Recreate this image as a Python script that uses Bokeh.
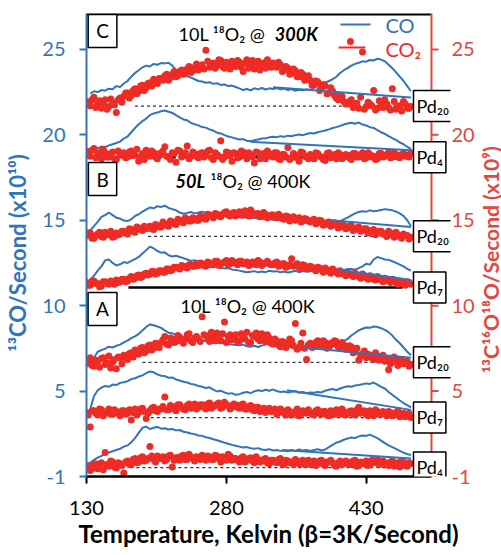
import math
from bokeh.plotting import figure
from bokeh.layouts import row
from bokeh.models import Range1d, LinearAxis, FixedTicker, Label, Span
from bokeh.embed import file_html
from bokeh.resources import INLINE

BLUE = "#3274bb"
RED = "#ee2b24"
RED_AXIS = "#e2483f"
FONT = "Lato, 'Noto Sans', sans-serif"

# ---------------- data ----------------
temps_line = list(range(134, 479, 4))    # K, CO traces
temps_dot = list(range(130, 479, 4))     # K, CO2 points (set a)
temps_dot_b = list(range(132, 477, 4))   # K, CO2 points (set b)

co_C_pd20 = [22.40, 22.55, 22.50, 22.62, 22.58, 22.70, 22.66, 22.85, 22.80, 23.00,
             23.15, 23.40, 23.62, 23.78, 23.95, 24.05, 24.00, 24.15, 24.10, 24.20,
             24.18, 24.22, 24.05, 23.80, 23.65, 23.55, 23.42, 23.35, 23.25, 23.15,
             23.12, 23.05, 23.08, 22.98, 23.02, 22.92, 22.95, 22.85, 22.88, 22.80,
             22.72, 22.62, 22.68, 22.60, 22.72, 22.66, 22.74, 22.65, 22.72, 22.68,
             22.74, 22.66, 22.70, 22.62, 22.68, 22.58, 22.64, 22.60, 22.66, 22.62,
             22.75, 22.85, 22.98, 23.05, 23.15, 23.25, 23.40, 23.62, 23.78, 23.90,
             24.05, 24.15, 24.22, 24.30, 24.28, 24.38, 24.35, 24.45, 24.40, 24.30,
             24.10, 23.90, 23.65, 23.40, 23.15, 22.85, 22.55]
co_C_pd4 = [19.15, 19.22, 19.20, 19.30, 19.28, 19.38, 19.45, 19.52, 19.60, 19.78,
            19.90, 20.15, 20.40, 20.62, 20.80, 20.95, 21.15, 21.25, 21.30, 21.38,
            21.42, 21.35, 21.28, 21.15, 21.02, 20.90, 20.85, 20.70, 20.62, 20.55,
            20.45, 20.42, 20.32, 20.25, 20.12, 20.08, 19.98, 19.90, 19.85, 19.78,
            19.72, 19.75, 19.65, 19.62, 19.68, 19.72, 19.78, 19.80, 19.85, 19.88,
            19.85, 19.92, 19.88, 19.95, 19.92, 19.98, 20.02, 19.98, 20.05, 20.10,
            20.08, 20.15, 20.20, 20.25, 20.32, 20.40, 20.45, 20.52, 20.60, 20.66,
            20.70, 20.65, 20.72, 20.60, 20.55, 20.45, 20.40, 20.28, 20.15, 20.05,
            19.92, 19.80, 19.70, 19.55, 19.45, 19.30, 19.18]
co_B_pd20 = [14.40, 14.65, 14.90, 15.20, 15.30, 15.45, 15.30, 15.15, 15.10, 14.98,
             14.95, 15.05, 15.25, 15.35, 15.50, 15.62, 15.75, 15.70, 15.82, 15.78,
             15.85, 15.72, 15.65, 15.58, 15.45, 15.38, 15.42, 15.48, 15.40, 15.46,
             15.50, 15.42, 15.38, 15.35, 15.40, 15.30, 15.32, 15.25, 15.22, 15.18,
             15.20, 15.15, 15.18, 15.12, 15.16, 15.10, 15.12, 15.05, 15.08, 15.02,
             15.05, 15.00, 15.02, 14.96, 15.00, 14.95, 14.98, 14.92, 14.95, 14.90,
             14.92, 14.88, 14.90, 14.86, 14.88, 14.85, 14.90, 14.95, 15.05, 15.15,
             15.28, 15.40, 15.48, 15.52, 15.50, 15.58, 15.52, 15.55, 15.60, 15.65,
             15.62, 15.58, 15.50, 15.40, 15.25, 15.00, 14.65]
co_B_pd7 = [11.50, 11.75, 12.05, 12.30, 12.65, 12.70, 12.50, 12.35, 12.42, 12.55,
            12.50, 12.62, 12.72, 12.85, 13.05, 13.25, 13.45, 13.35, 13.20, 13.10,
            13.12, 12.95, 12.88, 12.92, 12.85, 12.78, 12.70, 12.62, 12.66, 12.55,
            12.52, 12.45, 12.38, 12.32, 12.28, 12.22, 12.18, 12.20, 12.12, 12.08,
            12.05, 12.00, 11.95, 11.98, 12.02, 11.95, 12.00, 11.96, 12.04, 12.00,
            12.02, 11.96, 12.00, 11.94, 11.98, 12.04, 11.96, 12.02, 11.98, 12.05,
            12.00, 12.06, 12.02, 12.08, 12.04, 12.10, 12.05, 12.12, 12.08, 12.15,
            12.15, 12.10, 12.20, 12.30, 12.45, 12.40, 12.70, 12.85, 12.78, 12.70,
            12.68, 12.60, 12.50, 12.40, 12.30, 12.15, 12.05]
co_A_pd20 = [6.55, 6.95, 7.30, 7.40, 7.48, 7.60, 7.55, 7.65, 7.72, 7.85,
             7.95, 8.10, 8.20, 8.35, 8.55, 8.75, 8.90, 8.85, 8.78, 8.70,
             8.55, 8.42, 8.38, 8.30, 8.22, 8.12, 8.15, 8.05, 8.08, 7.98,
             8.00, 7.92, 7.95, 7.85, 7.82, 7.86, 7.78, 7.75, 7.72, 7.70,
             7.68, 7.72, 7.62, 7.60, 7.65, 7.58, 7.66, 7.72, 7.80, 7.85,
             7.82, 7.78, 7.80, 7.72, 7.65, 7.60, 7.62, 7.58, 7.60, 7.55,
             7.58, 7.52, 7.55, 7.50, 7.58, 7.60, 7.70, 7.78, 7.92, 8.05,
             8.25, 8.40, 8.55, 8.65, 8.72, 8.70, 8.78, 8.75, 8.68, 8.58,
             8.45, 8.25, 8.00, 7.80, 7.55, 7.30, 7.10]
co_A_pd7 = [3.95, 4.70, 5.05, 5.20, 5.30, 5.25, 5.38, 5.35, 5.48, 5.52,
            5.58, 5.70, 5.75, 5.85, 5.92, 6.05, 6.15, 6.10, 5.98, 5.90,
            5.88, 5.78, 5.80, 5.68, 5.62, 5.55, 5.50, 5.42, 5.38, 5.30,
            5.25, 5.18, 5.22, 5.08, 4.98, 5.02, 4.92, 4.85, 4.88, 4.78,
            4.82, 4.90, 4.95, 4.88, 4.98, 5.05, 5.00, 5.08, 5.02, 5.10,
            5.00, 4.95, 4.98, 4.92, 4.96, 5.00, 4.90, 4.95, 4.88, 4.92,
            4.90, 4.95, 4.92, 5.02, 5.08, 5.12, 5.05, 5.15, 5.22, 5.28,
            5.25, 5.32, 5.35, 5.40, 5.45, 5.42, 5.50, 5.38, 5.25, 5.15,
            4.95, 4.78, 4.62, 4.45, 4.30, 4.18, 4.05]
co_A_pd4 = [0.80, 0.98, 1.10, 1.20, 1.32, 1.40, 1.48, 1.55, 1.62, 1.75,
            1.82, 2.00, 2.25, 2.55, 2.85, 2.92, 2.78, 2.85, 2.90, 2.80,
            2.82, 2.75, 2.78, 2.70, 2.72, 2.62, 2.58, 2.52, 2.48, 2.40,
            2.38, 2.30, 2.25, 2.18, 2.12, 2.05, 1.98, 1.92, 1.85, 1.80,
            1.75, 1.70, 1.72, 1.65, 1.62, 1.66, 1.58, 1.55, 1.60, 1.52,
            1.55, 1.50, 1.52, 1.48, 1.55, 1.50, 1.58, 1.52, 1.55, 1.50,
            1.55, 1.60, 1.52, 1.58, 1.72, 1.85, 1.98, 2.05, 2.15, 2.22,
            2.28, 2.25, 2.35, 2.40, 2.38, 2.45, 2.35, 2.25, 2.10, 1.95,
            1.82, 1.72, 1.62, 1.50, 1.40, 1.32, 1.25]

co2_C_pd20 = [21.95, 21.70, 22.20, 21.80, 21.55, 22.05, 21.65, 21.90, 21.30, 22.15,
              22.25, 22.45, 22.30, 22.70, 22.55, 22.90, 22.75, 23.05, 23.25, 23.00,
              23.30, 23.45, 23.20, 23.55, 23.40, 23.70, 23.55, 23.85, 23.65, 23.95,
              23.80, 24.10, 24.95, 23.95, 24.20, 24.05, 24.35, 23.90, 24.15, 24.30,
              24.00, 24.25, 23.70, 24.40, 24.10, 23.85, 24.30, 24.15, 23.90, 24.20,
              24.20, 23.95, 24.10, 23.80, 23.90, 23.60, 23.75, 23.40, 23.55, 23.25,
              23.20, 22.95, 23.10, 22.75, 22.85, 22.45, 22.55, 22.15, 22.30, 21.95,
              21.80, 22.05, 21.70, 21.55, 24.85, 21.65, 21.80, 22.60, 21.55, 21.75,
              22.05, 21.60, 22.70, 21.50, 21.70, 21.95, 21.55, 21.65]
co2_C_pd4 = [19.05, 18.75, 19.20, 18.85, 18.60, 18.95, 18.70, 19.00, 18.55, 18.85,
             18.95, 18.70, 19.05, 18.80, 18.45, 18.90, 19.10, 18.75, 18.95, 18.60,
             18.85, 19.30, 18.70, 18.95, 18.40, 19.05, 18.80, 19.35, 18.75, 18.90,
             18.65, 18.95, 18.80, 19.10, 18.55, 18.85, 19.65, 18.70, 18.95, 18.45,
             18.90, 18.70, 19.00, 18.60, 18.85, 18.35, 18.95, 18.75, 18.60, 18.90,
             18.70, 18.95, 18.55, 18.85, 19.25, 18.65, 18.80, 18.45, 18.95, 18.70,
             18.85, 18.60, 18.90, 18.70, 18.50, 18.95, 18.75, 18.60, 18.85, 18.70,
             18.80, 18.55, 18.90, 18.70, 18.95, 18.65, 18.85, 18.75, 18.60, 18.90,
             18.75, 18.95, 18.70, 18.85, 18.65, 18.90, 18.80, 18.95]
co2_B_pd20 = [14.10, 14.25, 13.95, 14.20, 14.05, 14.30, 14.15, 14.00, 14.25, 14.20,
              14.35, 14.20, 14.45, 14.30, 14.55, 14.40, 14.50, 14.65, 14.45, 14.70,
              14.60, 14.80, 14.65, 14.90, 14.75, 15.00, 14.85, 15.05, 14.95, 15.10,
              15.00, 15.20, 15.05, 15.30, 15.15, 15.35, 15.20, 15.45, 15.30, 15.40,
              15.25, 15.50, 15.35, 15.45, 15.60, 15.30, 15.40, 15.25, 15.35, 15.20,
              15.30, 15.15, 15.25, 15.05, 15.20, 15.10, 15.00, 15.15, 14.95, 15.05,
              14.90, 15.05, 14.85, 14.95, 14.75, 14.90, 14.70, 14.80, 14.60, 14.70,
              14.55, 14.70, 14.45, 14.60, 14.40, 14.50, 14.30, 14.45, 14.25, 14.35,
              14.20, 14.35, 14.15, 14.30, 14.05, 14.20, 14.10, 14.00]
co2_B_pd7 = [11.35, 11.20, 11.45, 11.30, 11.15, 11.40, 11.25, 11.35, 11.50, 11.40,
             11.55, 11.45, 11.70, 11.60, 11.80, 11.70, 11.90, 11.85, 12.00, 11.90,
             12.05, 11.95, 12.15, 12.10, 12.25, 12.15, 12.30, 12.20, 12.40, 12.30,
             12.35, 12.45, 12.30, 12.50, 12.40, 12.60, 12.45, 12.55, 12.40, 12.65,
             12.50, 12.60, 12.45, 12.55, 12.40, 12.50, 12.65, 12.35, 12.50, 12.45,
             12.40, 12.55, 12.35, 12.45, 12.30, 12.75, 12.35, 12.25, 12.40, 12.20,
             12.30, 12.15, 12.25, 12.10, 12.20, 12.00, 12.15, 11.95, 12.05, 11.85,
             11.95, 11.80, 11.90, 11.70, 11.85, 11.65, 11.75, 11.55, 11.70, 11.50,
             11.60, 11.45, 11.55, 11.35, 11.45, 11.30, 11.40, 11.25]
co2_A_pd20 = [6.60, 6.95, 6.45, 6.75, 6.90, 6.55, 7.05, 6.70, 6.30, 6.95,
              7.10, 6.85, 7.25, 7.40, 7.15, 7.55, 7.35, 7.70, 7.50, 7.60,
              7.85, 8.20, 7.70, 8.05, 7.90, 8.15, 7.80, 8.30, 7.95, 8.10,
              8.05, 9.35, 8.25, 7.90, 8.15, 8.40, 7.95, 9.05, 8.20, 8.00,
              8.30, 7.95, 8.15, 8.45, 7.85, 8.20, 8.05, 8.35, 7.90, 8.10,
              7.75, 7.95, 7.60, 7.85, 7.70, 7.95, 8.95, 7.55, 8.40, 6.85,
              7.80, 7.60, 7.95, 7.70, 7.85, 7.55, 7.75, 7.90, 7.60, 7.70,
              7.45, 7.60, 7.30, 6.80, 7.20, 6.95, 7.10, 6.85, 7.05, 6.90,
              6.75, 6.25, 6.90, 6.70, 6.85, 6.60, 6.75, 6.55]
co2_A_pd7 = [3.75, 2.90, 3.85, 3.60, 3.90, 3.70, 3.95, 3.65, 3.80, 3.55,
             3.85, 3.70, 3.30, 3.95, 3.75, 4.00, 3.40, 3.85, 4.05, 3.80,
             3.95, 4.65, 3.90, 4.10, 3.85, 4.20, 3.95, 4.15, 4.00, 4.25,
             4.05, 4.20, 3.95, 4.30, 4.10, 4.25, 4.00, 4.35, 4.15, 4.05,
             4.20, 4.00, 4.25, 3.95, 4.15, 3.85, 4.05, 3.90, 3.75, 4.00,
             3.85, 3.65, 3.95, 3.70, 3.90, 3.60, 3.80, 3.55, 3.85, 3.70,
             3.75, 3.60, 3.90, 3.65, 3.80, 3.55, 3.75, 3.90, 3.65, 3.80,
             3.70, 3.85, 3.60, 4.05, 3.75, 3.65, 3.85, 3.55, 3.80, 3.70,
             3.65, 3.80, 3.55, 3.75, 3.50, 3.70, 3.60, 3.45]
co2_A_pd4 = [0.55, 0.35, 0.70, 0.45, 0.80, 1.40, 0.60, 0.85, 0.50, 0.75,
             0.20, 0.90, 0.70, 1.05, 0.85, 1.15, 0.95, 1.75, 1.00, 1.20,
             1.05, 0.90, 1.20, 0.55, 1.10, 0.95, 1.25, 1.00, 1.15, 0.90,
             1.10, 1.25, 0.95, 1.15, 1.00, 1.20, 0.85, 1.10, 1.30, 0.95,
             1.05, 0.85, 1.15, 0.95, 1.10, 0.80, 1.00, 0.90, 1.05, 0.75,
             0.95, 0.80, 1.05, 0.70, 0.90, 0.85, 1.00, 0.75, 0.95, 0.80,
             0.70, 0.90, 0.75, 0.95, 0.65, 0.85, 0.80, 0.60, 0.90, 0.75,
             0.85, 0.70, 0.95, 0.65, 0.80, 0.90, 0.70, 0.85, 1.00, 0.75,
             0.80, 0.65, 0.90, 0.70, 0.55, 0.85, 0.60, 0.75]

co2b_C_pd20 = [21.75, 22.05, 21.60, 22.00, 21.85, 21.50, 22.10, 21.75, 22.05, 21.90,
               22.45, 22.15, 22.60, 22.40, 22.85, 22.60, 23.00, 22.85, 23.10, 23.30,
               23.20, 23.55, 23.35, 23.70, 23.45, 23.80, 23.60, 24.00, 23.75, 24.15,
               24.00, 23.85, 24.30, 24.05, 23.90, 24.40, 24.00, 24.25, 23.85, 24.10,
               24.35, 23.95, 24.20, 23.90, 24.35, 24.05, 23.80, 24.20, 24.40, 23.95,
               24.00, 24.25, 23.70, 24.00, 23.55, 23.85, 23.40, 23.65, 23.20, 23.45,
               22.90, 23.15, 22.60, 22.95, 22.40, 22.75, 22.30, 22.05, 22.25, 21.80,
               21.95, 21.60, 21.85, 22.20, 21.50, 21.90, 21.70, 21.45, 22.00, 21.60,
               21.80, 21.45, 21.95, 21.65, 21.40, 21.80, 21.55]
co2b_C_pd4 = [18.80, 19.10, 18.65, 18.95, 19.15, 18.70, 18.90, 18.60, 19.05, 18.80,
              18.65, 19.00, 18.80, 19.15, 18.70, 18.55, 18.85, 19.05, 18.70, 18.90,
              19.05, 18.75, 18.55, 18.90, 19.10, 18.70, 18.95, 18.60, 19.00, 18.75,
              18.90, 18.70, 19.05, 18.65, 18.95, 18.75, 18.55, 19.00, 18.80, 18.95,
              18.65, 19.05, 18.80, 18.95, 18.70, 19.00, 18.60, 18.90, 19.05, 18.75,
              18.95, 18.60, 18.85, 18.70, 18.55, 18.90, 18.65, 19.00, 18.75, 18.60,
              18.70, 18.95, 18.75, 18.55, 18.90, 18.65, 18.85, 18.95, 18.60, 18.85,
              18.65, 18.90, 18.70, 18.85, 18.60, 18.95, 18.70, 18.55, 18.90, 18.70,
              18.85, 18.65, 18.95, 18.70, 18.85, 18.75, 18.70]
co2b_B_pd20 = [14.25, 13.95, 14.10, 14.30, 14.00, 14.15, 14.35, 14.05, 14.15, 14.35,
               14.25, 14.50, 14.35, 14.60, 14.45, 14.65, 14.55, 14.50, 14.75, 14.60,
               14.90, 14.70, 14.95, 14.80, 15.05, 14.90, 15.15, 14.95, 15.15, 15.00,
               15.25, 15.10, 15.35, 15.20, 15.40, 15.25, 15.35, 15.50, 15.25, 15.45,
               15.40, 15.30, 15.55, 15.25, 15.45, 15.35, 15.20, 15.45, 15.15, 15.30,
               15.20, 15.35, 15.10, 15.25, 14.95, 15.20, 15.05, 14.90, 15.10, 14.95,
               15.00, 14.80, 15.00, 14.70, 14.85, 14.65, 14.85, 14.55, 14.75, 14.50,
               14.65, 14.40, 14.55, 14.35, 14.50, 14.25, 14.40, 14.15, 14.35, 14.20,
               14.05, 14.25, 14.00, 14.15, 13.95, 14.10, 13.90]
co2b_B_pd7 = [11.20, 11.45, 11.30, 11.10, 11.40, 11.30, 11.45, 11.25, 11.35, 11.55,
              11.40, 11.60, 11.55, 11.75, 11.65, 11.85, 11.80, 12.00, 11.85, 12.05,
              11.95, 12.15, 12.05, 12.25, 12.20, 12.35, 12.25, 12.40, 12.30, 12.45,
              12.50, 12.35, 12.55, 12.40, 12.60, 12.35, 12.50, 12.65, 12.45, 12.55,
              12.40, 12.60, 12.45, 12.35, 12.55, 12.40, 12.55, 12.45, 12.60, 12.40,
              12.50, 12.30, 12.45, 12.25, 12.40, 12.30, 12.45, 12.20, 12.35, 12.15,
              12.25, 12.05, 12.20, 11.95, 12.10, 11.90, 12.05, 11.85, 11.95, 11.75,
              11.85, 11.70, 11.80, 11.60, 11.75, 11.55, 11.70, 11.50, 11.60, 11.40,
              11.50, 11.35, 11.50, 11.25, 11.40, 11.20, 11.35]
co2b_A_pd20 = [6.85, 6.50, 6.80, 6.40, 6.95, 6.65, 6.35, 6.85, 7.00, 6.60,
               6.95, 7.20, 7.00, 7.35, 7.50, 7.25, 7.65, 7.40, 7.80, 7.55,
               8.00, 7.75, 8.10, 7.85, 8.25, 7.95, 8.05, 8.35, 7.85, 8.20,
               7.90, 8.30, 8.10, 8.45, 7.95, 8.20, 8.35, 7.85, 8.30, 8.10,
               7.90, 8.35, 8.05, 7.85, 8.25, 8.40, 7.95, 8.15, 8.30, 7.80,
               8.05, 7.70, 7.90, 7.55, 8.05, 7.65, 7.45, 7.80, 7.50, 7.70,
               7.55, 7.85, 7.65, 7.95, 7.50, 7.80, 7.95, 7.60, 7.85, 7.45,
               7.65, 7.25, 7.50, 7.05, 7.35, 7.15, 6.95, 7.25, 6.80, 7.10,
               6.90, 6.60, 7.00, 6.50, 6.80, 6.65, 6.45]
co2b_A_pd7 = [3.60, 3.85, 3.70, 3.95, 3.55, 3.80, 3.65, 3.90, 3.70, 3.85,
              3.65, 3.90, 3.75, 3.60, 3.95, 3.80, 3.70, 4.00, 3.85, 3.95,
              4.10, 3.90, 4.15, 3.95, 4.20, 4.05, 3.90, 4.25, 4.10, 3.95,
              4.20, 4.05, 4.25, 4.00, 4.15, 4.30, 4.05, 4.20, 3.95, 4.25,
              4.05, 4.20, 3.95, 4.10, 3.90, 4.05, 3.80, 4.00, 3.90, 3.80,
              3.95, 3.75, 3.85, 3.60, 3.80, 3.70, 3.95, 3.65, 3.75, 3.90,
              3.65, 3.85, 3.70, 3.80, 3.60, 3.85, 3.65, 3.75, 3.95, 3.60,
              3.80, 3.65, 3.90, 3.70, 3.85, 3.55, 3.75, 3.90, 3.65, 3.80,
              3.55, 3.75, 3.60, 3.85, 3.65, 3.50, 3.70]
co2b_A_pd4 = [0.65, 0.45, 0.75, 0.55, 0.40, 0.70, 0.90, 0.55, 0.80, 0.65,
              0.85, 0.70, 1.00, 0.80, 1.10, 0.90, 1.05, 1.20, 0.85, 1.05,
              1.15, 1.00, 1.25, 0.95, 1.10, 1.20, 1.00, 1.30, 1.05, 1.15,
              1.00, 1.15, 1.20, 1.00, 1.25, 1.05, 1.15, 0.95, 1.20, 1.05,
              0.95, 1.10, 0.85, 1.05, 0.90, 1.15, 0.85, 1.00, 0.80, 0.95,
              0.85, 1.00, 0.75, 0.95, 0.80, 0.70, 0.90, 0.85, 0.70, 0.95,
              0.85, 0.65, 0.90, 0.70, 0.85, 0.95, 0.65, 0.80, 0.70, 0.90,
              0.70, 0.90, 0.60, 0.85, 0.75, 0.65, 0.95, 0.80, 0.70, 0.90,
              0.70, 0.85, 0.60, 0.80, 0.90, 0.65, 0.80]

co_series = [co_C_pd20, co_C_pd4, co_B_pd20, co_B_pd7, co_A_pd20, co_A_pd7, co_A_pd4]
co2_series = [co2_C_pd20, co2_C_pd4, co2_B_pd20, co2_B_pd7, co2_A_pd20, co2_A_pd7, co2_A_pd4]
co2b_series = [co2b_C_pd20, co2b_C_pd4, co2b_B_pd20, co2b_B_pd7, co2b_A_pd20, co2b_A_pd7, co2b_A_pd4]

# linear CO background under the high-temperature peak
bg_start_T = [330, 306, 392, 400, 362, 345, 340]
bg_start_v = [22.78, 19.59, 15.00, 12.10, 7.55, 5.05, 1.55]
bg_end_T = [478, 478, 478, 478, 478, 478, 478]
bg_end_v = [22.18, 19.10, 14.60, 11.50, 6.95, 3.90, 1.05]

# CO2 zero levels for each trace and their labels
pd_labels = ["Pd₂₀", "Pd₄", "Pd₂₀", "Pd₇", "Pd₂₀", "Pd₇", "Pd₄"]
zero_levels = [21.68, 18.68, 14.06, 11.06, 6.68, 3.45, 0.52]
zero_start_T = [182, 156, 196, 175, 190, 199, 177]
zero_end_T = [478, 424, 437, 469, 478, 478, 478]

panels = ["C", "B", "A"]
panel_box_y = [26.08, 17.41, 9.81]

y_ticks = [0, 5, 10, 15, 20, 25]
y_tick_text = ["-1", "5", "10", "15", "20", "25"]
x_ticks = [130, 280, 430]
T_MAX = 500          # right end of the temperature axis
Y_MAX = 27.1

NB = "\u00a0"

# ---------------- main figure ----------------
p = figure(frame_width=364, frame_height=463,
           x_range=Range1d(130, 520.4), y_range=Range1d(0, Y_MAX),
           output_backend="svg", toolbar_location=None,
           min_border_left=86, min_border_right=25, min_border_top=13, min_border_bottom=79,
           background_fill_color="white", border_fill_color="white",
           outline_line_color=None)
p.xgrid.visible = False
p.ygrid.visible = False

xa = p.xaxis[0]
xa.ticker = FixedTicker(ticks=x_ticks)
xa.bounds = (130, T_MAX)
xa.axis_line_color = "black"
xa.axis_line_width = 2.5
xa.major_tick_line_color = "black"
xa.major_tick_line_width = 2
xa.major_tick_in = 0
xa.major_tick_out = 7
xa.minor_tick_line_color = None
xa.major_label_text_font = FONT
xa.major_label_text_font_size = "20px"
xa.major_label_text_color = "black"
xa.major_label_standoff = 17
xa.axis_label = "Temperature, Kelvin (β=3K/Second)"
xa.axis_label_text_font = FONT
xa.axis_label_text_font_size = "24px"
xa.axis_label_text_font_style = "bold"
xa.axis_label_text_color = "black"
xa.axis_label_standoff = 1

ticks_map = dict(zip(y_ticks, y_tick_text))

ya = p.yaxis[0]
ya.ticker = FixedTicker(ticks=y_ticks)
ya.major_label_overrides = ticks_map
ya.axis_line_color = BLUE
ya.axis_line_width = 2
ya.major_tick_line_color = BLUE
ya.major_tick_line_width = 2
ya.major_tick_in = 0
ya.major_tick_out = 7
ya.minor_tick_line_color = None
ya.major_label_text_font = FONT
ya.major_label_text_font_size = "20px"
ya.major_label_text_color = BLUE
ya.major_label_standoff = 14
ya.axis_label = "¹³CO/Second (x10¹⁰)" + NB * 3
ya.axis_label_text_font = FONT
ya.axis_label_text_font_size = "22px"
ya.axis_label_text_font_style = "bold"
ya.axis_label_text_color = BLUE
ya.axis_label_standoff = 8

# right axis: tick labels (its line and ticks are drawn at T_MAX below)
ra = LinearAxis(ticker=FixedTicker(ticks=y_ticks))
ra.major_label_overrides = ticks_map
ra.axis_line_color = None
ra.major_tick_line_color = None
ra.minor_tick_line_color = None
ra.major_tick_in = 0
ra.major_tick_out = 0
ra.major_label_text_font = FONT
ra.major_label_text_font_size = "20px"
ra.major_label_text_color = RED_AXIS
ra.major_label_standoff = 1
p.add_layout(ra, "right")

p.add_layout(Span(location=T_MAX, dimension="height", line_color=RED_AXIS, line_width=2))
p.segment(x0=[T_MAX] * len(y_ticks), x1=[T_MAX + 7.5] * len(y_ticks),
          y0=y_ticks, y1=y_ticks, line_color=RED_AXIS, line_width=2)
p.segment(x0=[130], x1=[T_MAX], y0=[Y_MAX - 0.05], y1=[Y_MAX - 0.05], line_color="black", line_width=2.5)

# zero levels
thin = [0, 2, 4, 5, 6]
p.segment(x0=[zero_start_T[i] for i in thin], x1=[zero_end_T[i] for i in thin],
          y0=[zero_levels[i] for i in thin], y1=[zero_levels[i] for i in thin],
          line_color="#333333", line_width=1.3, line_dash="3 3")
p.segment(x0=[zero_start_T[1]], x1=[zero_end_T[1]], y0=[zero_levels[1]], y1=[zero_levels[1]],
          line_color="black", line_width=2.5, line_dash="9 5")
p.segment(x0=[zero_start_T[3]], x1=[zero_end_T[3]], y0=[zero_levels[3]], y1=[zero_levels[3]],
          line_color="black", line_width=2.5)

for s in co_series:
    p.line(temps_line, s, line_color=BLUE, line_width=2)

for s in co2_series:
    p.scatter(temps_dot, s, size=7, fill_color=RED, line_color=None)
for s in co2b_series:
    p.scatter(temps_dot_b, s, size=7, fill_color=RED, line_color=None)

p.segment(x0=bg_start_T, y0=bg_start_v, x1=bg_end_T, y1=bg_end_v, line_color=BLUE, line_width=2)

# legend keys, drawn as in the original
p.segment(x0=[402.4], x1=[434.6], y0=[26.46], y1=[26.46], line_color=BLUE, line_width=2)
p.segment(x0=[400.3], x1=[429.2], y0=[25.11], y1=[25.11], line_color=RED, line_width=2)
p.scatter([413.1], [25.46], size=7, fill_color=RED, line_color=None)
p.add_layout(Label(x=450.7, y=26.40, text="CO", text_align="left", text_baseline="middle",
                   text_font=FONT, text_font_size="20px", text_color=BLUE))
p.add_layout(Label(x=450.7, y=25.05, text="CO₂", text_align="left", text_baseline="middle",
                   text_font=FONT, text_font_size="20px", text_color=RED))

# panel letters
for name, yv in zip(panels, panel_box_y):
    p.add_layout(Label(x=147.2, y=yv, text=name, text_align="center", text_baseline="middle",
                       text_font=FONT, text_font_size="19px", text_color="black",
                       background_fill_color="white", border_line_color="black", border_line_width=1.5,
                       padding=dict(left=8, right=8, top=5, bottom=5)))

# Pd boxes
for labtxt, yv in zip(pd_labels, zero_levels):
    p.add_layout(Label(x=480.7, y=yv, text=labtxt, text_align="left", text_baseline="middle",
                       text_font=FONT, text_font_size="18px", text_color="black",
                       background_fill_color="white", border_line_color="black", border_line_width=1.5,
                       padding=dict(left=3, right=3, top=4, bottom=5)))

# panel titles
def lab(x, y, t, style="normal"):
    p.add_layout(Label(x=x, y=y, text=t, text_align="left", text_baseline="middle",
                       text_font=FONT, text_font_size="18px", text_font_style=style, text_color="black"))

lab(228.7, 25.88, "10L ¹⁸O₂ @")
lab(332.0, 25.88, "300K", "bold italic")
lab(225.5, 17.29, "50L", "bold italic")
lab(263.0, 17.29, "¹⁸O₂ @ 400K")
lab(230.8, 9.99, "10L ¹⁸O₂ @ 400K")

# ---------------- strip on the right carrying the right-hand axis title ----------------
y_px_per_unit = 463 / Y_MAX
p2 = figure(width=26, height=555, x_range=Range1d(0, 26),
            y_range=Range1d(-79 / y_px_per_unit, Y_MAX + 13 / y_px_per_unit),
            output_backend="svg", toolbar_location=None,
            x_axis_location=None, y_axis_location=None,
            min_border_left=0, min_border_right=0, min_border_top=0, min_border_bottom=0,
            background_fill_color="white", border_fill_color="white", outline_line_color=None)
p2.xgrid.visible = False
p2.ygrid.visible = False
p2.add_layout(Label(x=12.5, y=10.6, angle=math.pi / 2, text="¹³C¹⁶O¹⁸O/Second (x10⁹)",
                    text_align="center", text_baseline="middle", text_font=FONT,
                    text_font_size="21px", text_font_style="bold", text_color=RED_AXIS))

layout = row(p, p2)
open("out.html", "w").write(file_html(layout, INLINE))
